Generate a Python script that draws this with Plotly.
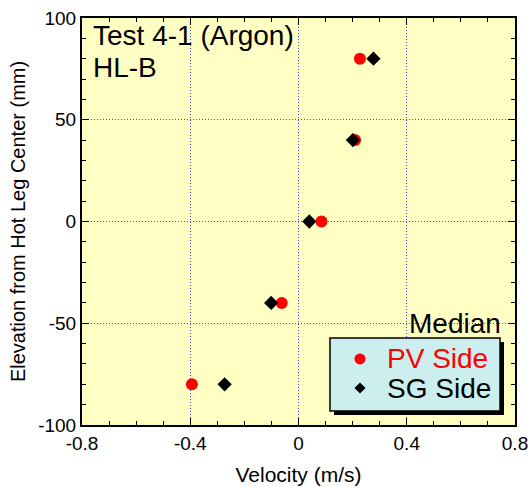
import plotly.graph_objects as go

elevation = [80, 40, 0, -40, -80]
pv_velocity = [0.227, 0.209, 0.085, -0.062, -0.394]
sg_velocity = [0.277, 0.201, 0.040, -0.101, -0.273]

x_ticks = [-0.8, -0.4, 0, 0.4, 0.8]
x_ticklabels = ["-0.8", "-0.4", "0", "0.4", "0.8"]
y_ticks = [-100, -50, 0, 50, 100]
y_ticklabels = ["-100", "-50", "0", "50", "100"]

FONT = "Arial, Liberation Sans, sans-serif"
PV_COLOR = "#ff0000"
SG_COLOR = "#000000"

fig = go.Figure()
fig.add_trace(go.Scatter(x=pv_velocity, y=elevation, mode="markers", name="PV Side",
                         showlegend=False,
                         marker=dict(symbol="circle", size=12, color=PV_COLOR)))
fig.add_trace(go.Scatter(x=sg_velocity, y=elevation, mode="markers", name="SG Side",
                         showlegend=False,
                         marker=dict(symbol="diamond", size=11, color=SG_COLOR)))

axis_common = dict(showline=True, linecolor="black", linewidth=2, mirror="ticks",
                   ticks="inside", ticklen=7, tickwidth=1, tickcolor="black",
                   showgrid=True, gridcolor="#4444ee", griddash="1px,2px", gridwidth=1,
                   zeroline=False, automargin=False,
                   tickfont=dict(size=19, color="black", family=FONT))

fig.update_xaxes(range=[-0.8, 0.8], tickvals=x_ticks, ticktext=x_ticklabels,
                 minor=dict(dtick=0.1, ticks="inside", ticklen=4, tickcolor="black", showgrid=False),
                 title=dict(text="Velocity (m/s)", font=dict(size=21, family=FONT, color="black"), standoff=15),
                 **axis_common)
fig.update_yaxes(range=[-100, 100], tickvals=y_ticks, ticktext=y_ticklabels,
                 minor=dict(dtick=10, ticks="inside", ticklen=4, tickcolor="black", showgrid=False),
                 title=dict(text="Elevation from Hot Leg Center (mm)", font=dict(size=20, family=FONT, color="black"), standoff=7),
                 **axis_common)

def px_rect(x0, x1, y0, y1, **kw):
    return dict(type="rect", xref="paper", yref="paper", x0=x0, x1=x1, y0=y0, y1=y1, **kw)

shapes = [
    # legend shadow and box
    px_rect(0.582, 0.9746, 0.0246, 0.204, fillcolor="black", line=dict(width=0)),
    px_rect(0.5727, 0.9654, 0.0344, 0.2138, fillcolor="#cceeee", line=dict(color="black", width=1.5)),
    # legend keys
    dict(type="circle", xref="paper", yref="paper", xsizemode="pixel", ysizemode="pixel",
         xanchor=0.642, yanchor=0.1622, x0=-5.5, x1=5.5, y0=-5.5, y1=5.5,
         fillcolor=PV_COLOR, line=dict(width=0)),
    dict(type="path", xref="paper", yref="paper", xsizemode="pixel", ysizemode="pixel",
         xanchor=0.642, yanchor=0.0909, path="M -5.5 0 L 0 5.5 L 5.5 0 L 0 -5.5 Z",
         fillcolor=SG_COLOR, line=dict(width=0)),
]

fig.update_layout(
    width=531, height=487,
    margin=dict(l=82, r=16, t=18, b=62),
    plot_bgcolor="#ffffc4", paper_bgcolor="white",
    font=dict(family=FONT, color="black"),
    showlegend=False,
    shapes=shapes,
    annotations=[
        dict(text="Test 4-1 (Argon)", xref="paper", yref="paper", x=0.02, y=0.9558,
             xanchor="left", yanchor="middle", showarrow=False,
             font=dict(size=28, family=FONT, color="black")),
        dict(text="HL-B", xref="paper", yref="paper", x=0.02, y=0.8784,
             xanchor="left", yanchor="middle", showarrow=False,
             font=dict(size=28, family=FONT, color="black")),
        dict(text="Median", xref="paper", yref="paper", x=0.972, y=0.249,
             xanchor="right", yanchor="middle", showarrow=False,
             font=dict(size=28, family=FONT, color="black")),
        dict(text="PV Side", xref="paper", yref="paper", x=0.6998, y=0.164,
             xanchor="left", yanchor="middle", showarrow=False,
             font=dict(size=28, family=FONT, color=PV_COLOR)),
        dict(text="SG Side", xref="paper", yref="paper", x=0.6998, y=0.0895,
             xanchor="left", yanchor="middle", showarrow=False,
             font=dict(size=28, family=FONT, color=SG_COLOR)),
    ],
)
fig.write_html("out.html")
